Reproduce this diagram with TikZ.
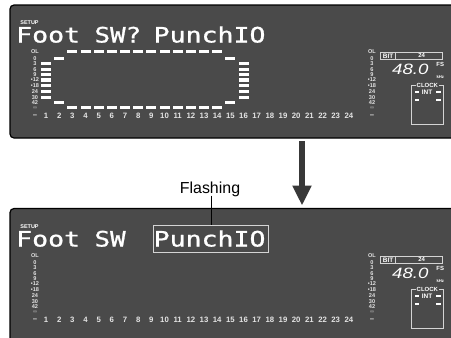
\documentclass[tikz,border=0pt]{standalone}
\usepackage{fontspec}
\setmainfont{Liberation Sans}
\newfontfamily\lcd[FakeBold=0.9]{DejaVu Sans Mono}
\usetikzlibrary{arrows.meta}
\definecolor{panelgray}{HTML}{4A4A4A}
\definecolor{labgray}{HTML}{E4E4E4}
\definecolor{infgray}{HTML}{A0A0A0}
\definecolor{boxgray}{HTML}{D4D4D4}
\definecolor{arrowgray}{HTML}{383838}
\tikzset{
  panel/.style={fill=panelgray, draw=black, line width=1.2bp, rounded corners=4bp},
  lcdtext/.style={text=white, font=\lcd\fontsize{21.3}{21.3}\selectfont, anchor=base west, inner sep=0},
  scalelab/.style={text=labgray, font=\bfseries\fontsize{5.6}{5.6}\selectfont, inner sep=0},
  chnum/.style={text=labgray, font=\bfseries\fontsize{7.8}{7.8}\selectfont, inner sep=0},
  tinybold/.style={text=white, font=\bfseries\fontsize{6}{6}\selectfont, inner sep=0.6bp},
  meterbar/.style={fill=white, minimum width=10bp, minimum height=3.3bp, inner sep=0},
  boxline/.style={draw=boxgray, line width=0.8bp},
  dashmark/.style={fill=white, minimum width=4.5bp, minimum height=1.6bp, inner sep=0}
}
\newcommand\meterlabels[2]{%
  \foreach \t/\yy [count=\i] in {OL/51.5, 0/58.3, 3/63.8, 6/69.3, 9/74.5, •12/79.9, •18/85.7, 24/91.5, 30/97.2, 42/102.6}
    {\node[scalelab] (#1\i) at (#2,\yy) {\t};}
  \node[scalelab, text=infgray] (#1inf) at (#2,107.8) {∞};
  \node[chnum] (#1dash) at (#2,116) {–};
}
\newcommand\panelcore[2]{%
  \node[tinybold, font=\bfseries\fontsize{5.5}{5.5}\selectfont] (#1setup) at (29.5,22.8) {SETUP};
  \node[lcdtext] (#1foot) at (16,42.5) {\scalebox{1.25}[1]{Foot}};
  \node[lcdtext] (#1sw) at (94.3,42.5) {\scalebox{1.22}[1]{#2}};
  \node[lcdtext] (#1punch) at (153.5,42.5) {\scalebox{1.25}[1]{PunchIO}};
  \meterlabels{#1l}{35}
  \meterlabels{#1r}{372}
  \foreach \n in {1,...,24} {\node[chnum] (#1c\n) at ({46+(\n-1)*13.17},116) {\n};}
  % BIT box
  \node[boxline, minimum width=62bp, minimum height=6.7bp, inner sep=0] (#1bit) at (411.7,55.7) {};
  \coordinate (#1bdiv) at (395,55.7);
  \draw[boxline] (#1bdiv |- #1bit.north) -- (#1bdiv |- #1bit.south);
  \node[tinybold, font=\bfseries\fontsize{6.5}{6.5}\selectfont] (#1bittxt) at (388.2,55.9) {BIT};
  \node[tinybold] (#1bitval) at (421.7,55.9) {24};
  % frequency
  \node[text=white, font=\itshape\fontsize{15}{15}\selectfont, inner sep=0] (#1freq) at (410.3,69.8) {\scalebox{1.25}[1]{48.0}};
  \node[text=white, inner sep=0, align=center] (#1fsk) at (440.3,70.1)
    {\bfseries\fontsize{6}{8}\selectfont FS\\\bfseries\fontsize{4.2}{8}\selectfont kHz};
  % clock box
  \node[tinybold] (#1clk) at (427.3,85.7) {CLOCK};
  \coordinate (#1cbl) at (411.7,124.3);
  \coordinate (#1cbr) at (443,124.3);
  \draw[boxline] (#1clk.west) -- (#1clk.west -| #1cbl) -- (#1cbl) -- (#1cbr) -- (#1cbr |- #1clk.east) -- (#1clk.east);
  \node[tinybold, font=\bfseries\fontsize{6.5}{6.5}\selectfont] (#1int) at (427,92) {INT};
  \node[dashmark] (#1d1) at (416.8,91.8) {};
  \node[dashmark] (#1d2) at (416.8,100) {};
  \node[dashmark] (#1d3) at (438.7,91.8) {};
  \node[dashmark] (#1d4) at (438.7,100) {};
}
\begin{document}
\begin{tikzpicture}[x=1bp,y=-1bp]
\useasboundingbox (0,0) rectangle (451,337);
\clip (0,0) rectangle (451,337);
\fill[white] (0,0) rectangle (451,337);
% top panel
\draw[panel] (10,5) rectangle (480,138);
\panelcore{t}{SW?}
\foreach \yy [count=\i] in {63.8,69.3,74.5,79.9,85.7,91.5,97.2}
  {\node[meterbar] (ba\i) at (46,\yy) {}; \node[meterbar] (bp\i) at ({46+15*13.17},\yy) {};}
\foreach \yy [count=\i] in {58.3,102.6}
  {\node[meterbar] (bb\i) at (59.17,\yy) {}; \node[meterbar] (bo\i) at ({46+14*13.17},\yy) {};}
\foreach \n in {3,...,14}
  {\node[meterbar] (bt\n) at ({46+(\n-1)*13.17},51.2) {}; \node[meterbar] (bu\n) at ({46+(\n-1)*13.17},107.8) {};}
% arrow
\coordinate (arrtop) at (302,141);
\coordinate (arrtip) at (302,205.5);
\draw[arrowgray, line width=5.5bp, -{Triangle[width=18bp,length=20bp]}] (arrtop) -- (arrtip);
% bottom panel
\draw[panel] (10,208.5) rectangle (480,420);
\begin{scope}[shift={(0,204)}]
\panelcore{b}{SW}
\end{scope}
\node[boxline, line width=1bp, minimum width=115bp, minimum height=26.7bp, inner sep=0] (pbox) at (210.5,239.3) {};
\node[font=\fontsize{16}{16}\selectfont, anchor=base, inner sep=0] (flash) at (210,193.3) {Flashing};
\coordinate (fl) at (211,195.5);
\draw[line width=0.8bp] (fl) -- (fl |- pbox.north);
\end{tikzpicture}
\end{document}
